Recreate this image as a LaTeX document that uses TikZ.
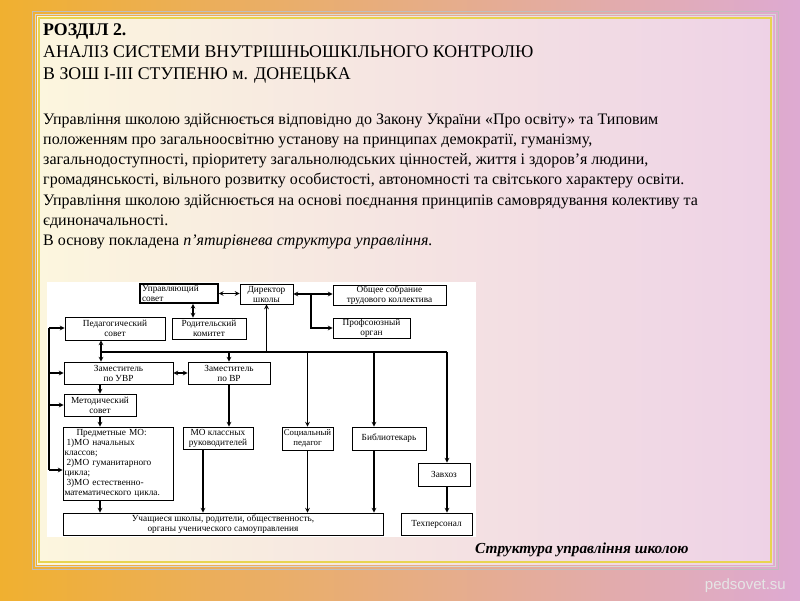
\documentclass[tikz,border=0pt]{standalone}
\usepackage{fontspec}
\setmainfont{Liberation Serif}
\newfontfamily\wmfont{Liberation Sans}
\usepackage{tikz}
\usetikzlibrary{arrows.meta, positioning, calc}
\usepackage{xcolor}
\definecolor{bgleft}{RGB}{240,176,48}
\definecolor{bgmid}{RGB}{242,168,120}
\definecolor{bgright}{RGB}{222,170,210}
\definecolor{panelright}{RGB}{238,210,230}
\definecolor{panelleft}{RGB}{252,246,222}
\definecolor{gold}{RGB}{232,212,80}
\definecolor{silver}{RGB}{190,190,190}

\begin{document}
\begin{tikzpicture}[
    x=1pt, y=-1pt,
    box/.style={rectangle, draw, fill=white, text centered, align=center, inner sep=0.5pt, line width=0.9pt, font=\fontsize{9.3}{10}\selectfont},
    arrow/.style={->, >=stealth, line width=1.1pt},
    bidirectional/.style={<->, >=stealth, line width=1.1pt},
    busline/.style={line width=1.1pt}
]
\useasboundingbox (0,0) rectangle (800,600);

% Slide background and frame
\shade[left color=bgleft, middle color=bgmid, right color=bgright] (0,0) rectangle (800,600);
\shade[left color=panelleft, middle color=white, right color=panelright] (37,16) rectangle (773,564);
\draw[silver, line width=1pt] (32,11) rectangle (778,569);
\draw[silver!60, line width=0.8pt] (35,14) rectangle (775,566);
\draw[gold, line width=2.5pt] (39,18) rectangle (771,562);

% Heading and text
\node[anchor=north west, align=left, inner sep=0, font=\fontsize{17.8}{22}\selectfont] (title) at (43,24)
  {\textbf{РОЗДІЛ 2.}\\АНАЛІЗ СИСТЕМИ ВНУТРІШНЬОШКІЛЬНОГО КОНТРОЛЮ\\В ЗОШ І-ІІІ СТУПЕНЮ м. ДОНЕЦЬКА};
\node[anchor=north west, align=left, inner sep=0, font=\fontsize{16}{20.1}\selectfont] (body) at (43,113.5)
  {Управління школою здійснюється відповідно до Закону України «Про освіту» та Типовим\\
   положенням про загальноосвітню установу на принципах демократії, гуманізму,\\
   загальнодоступності, пріоритету загальнолюдських цінностей, життя і здоров'я людини,\\
   громадянськості, вільного розвитку особистості, автономності та світського характеру освіти.\\
   Управління школою здійснюється на основі поєднання принципів самоврядування колективу та\\
   єдиноначальності.\\
   В основу покладена \textit{п'ятирівнева структура управління.}};

% Diagram sheet
\fill[white] (47,282) rectangle (476,537);

% Top row
\node[box, minimum width=78, minimum height=19, line width=1.6pt, align=left, text width=74] (council) at (179,293.5) {Управляющий\\совет};
\node[box, minimum width=53, minimum height=20] (director) at (266.5,294) {Директор\\школы};
\node[box, minimum width=113, minimum height=20] (meeting) at (389.5,295) {Общее собрание\\трудового коллектива};
\node[box, minimum width=77, minimum height=20] (union) at (371.5,328) {Профсоюзный\\орган};
\node[box, minimum width=100, minimum height=23] (pedcouncil) at (115,328.5) {Педагогический\\совет};
\node[box, minimum width=74, minimum height=21] (parents) at (209,328.5) {Родительский\\комитет};

% Deputies
\node[box, minimum width=109, minimum height=22] (deputy_uvr) at (118.5,373) {Заместитель\\по УВР};
\node[box, minimum width=82, minimum height=22] (deputy_vr) at (229,373) {Заместитель\\по ВР};
\node[box, minimum width=72, minimum height=22] (method) at (100,405) {Методический\\совет};

% Lower row
\node[box, minimum width=110, minimum height=73, align=left, text width=107] (subject_mo) at (118,463.5)
  {\hspace*{12pt}Предметные МО:\\\hspace*{2pt}1)МО начальных\\классов;\\\hspace*{2pt}2)МО гуманитарного\\цикла;\\\hspace*{2pt}3)МО естественно-\\математического цикла.};
\node[box, minimum width=70, minimum height=22] (class_mo) at (218,438) {МО классных\\руководителей};
\node[box, minimum width=51, minimum height=23, font=\fontsize{8.8}{10}\selectfont] (social) at (307.5,438.5) {Социальный\\педагог};
\node[box, minimum width=74, minimum height=23] (librarian) at (389,438.5) {Библиотекарь};
\node[box, minimum width=52, minimum height=23] (caretaker) at (444,474.5) {Завхоз};
\node[box, minimum width=320, minimum height=22] (pupils) at (223,524) {Учащиеся школы, родители, общественность,\\органы ученического самоуправления};
\node[box, minimum width=71, minimum height=22] (staff) at (436.5,524) {Техперсонал};

% Bus points
\coordinate (busL) at (101,352);
\coordinate (busR) at (447,352);
\coordinate (busLib) at (374,352);
\coordinate (leftT) at (49,328);
\coordinate (leftB) at (49,470);
\coordinate (split) at (311,294);
\coordinate (upsx) at (193,0);
\coordinate (mkx) at (203,0);

% Arrows
\draw[bidirectional] (council.east) -- (council.east -| director.west);
\draw[bidirectional] (council.south -| upsx) -- (parents.north -| upsx);
\draw[bidirectional] (director.east) -- (director.east -| meeting.west);
\draw[arrow] (split) |- (union.west);
\draw[bidirectional] (pedcouncil.south -| busL) -- (deputy_uvr.north -| busL);
\draw[busline] (busL) -- (busR);
\draw[arrow] (busL -| director.south) -- (director.south);
\draw[arrow] (busL -| deputy_vr.north) -- (deputy_vr.north);
\draw[arrow] (busL -| social.north) -- (social.north);
\draw[arrow] (busLib) -- (librarian.north -| busLib);
\draw[arrow] (busR) -- (caretaker.north -| busR);

% Left feed
\draw[busline] (leftT) -- (leftB);
\draw[arrow] (leftT) -- (leftT -| pedcouncil.west);
\draw[arrow] (leftT |- deputy_uvr.west) -- (deputy_uvr.west);
\draw[arrow] (leftT |- method.west) -- (method.west);
\draw[arrow] (leftB) -- (leftB -| subject_mo.west);

\draw[bidirectional] (deputy_uvr.east) -- (deputy_vr.west);
\draw[arrow] (deputy_uvr.south -| method.north) -- (method.north);
\draw[arrow] (method.south) -- (method.south |- subject_mo.north);
\draw[arrow] (subject_mo.south -| method.south) -- (pupils.north -| method.south);
\draw[arrow] (deputy_vr.south) -- (deputy_vr.south |- class_mo.north);
\draw[arrow] (class_mo.south -| mkx) -- (pupils.north -| mkx);
\draw[arrow] (social.south) -- (social.south |- pupils.north);
\draw[arrow] (librarian.south -| busLib) -- (pupils.north -| busLib);
\draw[arrow] (caretaker.south -| busR) -- (staff.north -| busR);

% Caption
\node[anchor=west, inner sep=0, font=\fontsize{15.3}{17}\selectfont\bfseries\itshape] (caption) at (475,550) {Структура управління школою};
\node[anchor=east, inner sep=0, text=white!80!gray, font=\wmfont\fontsize{15}{17}\selectfont] (mark) at (786,586) {pedsovet.su};
\end{tikzpicture}
\end{document}
